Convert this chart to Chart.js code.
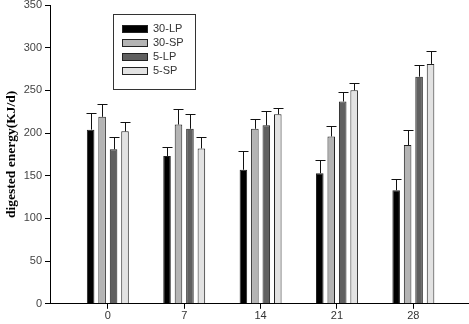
<!DOCTYPE html>
<html>
<head>
<meta charset="utf-8">
<script src="https://cdn.jsdelivr.net/npm/chart.js@4"></script>
<style>
  html, body { margin: 0; padding: 0; background: #fff; }
  #wrap { width: 469px; height: 324px; position: relative; }
</style>
</head>
<body>
<div id="wrap"><canvas id="chart"></canvas></div>
<script>
// days on the x axis
const days = [0, 7, 14, 21, 28];

// group labels
const groups = ['30-LP', '30-SP', '5-LP', '5-SP'];

// mean values (KJ/d)
const lp30 = [204, 173, 157, 153, 133];
const sp30 = [219, 210, 205, 196, 186];
const lp5 = [181, 205, 209, 237, 266];
const sp5 = [202, 182, 222, 250, 281];

// upper error (SD)
const lp30Err = [20, 11, 22, 16, 13];
const sp30Err = [15, 18, 11, 12, 17];
const lp5Err = [14, 17, 17, 11, 14];
const sp5Err = [11, 13, 7, 9, 15];

const yTicks = [0, 50, 100, 150, 200, 250, 300, 350];

const fills = ['#000000', '#b4b4b4', '#606060', '#e2e2e2'];
const series = [lp30, sp30, lp5, sp5];
const errors = [lp30Err, sp30Err, lp5Err, sp5Err];

const datasets = groups.map((g, i) => ({
    label: g,
    data: days.map((d, j) => ({ x: d, y: series[i][j] })),
    errors: errors[i],
    backgroundColor: fills[i],
    borderColor: '#222',
    borderWidth: 1,
    categoryPercentage: 0.6,
    barPercentage: 0.66
}));

// upward error bars with a cap
const errorBars = {
    id: 'errorBars',
    afterDatasetsDraw(chart) {
        const ctx = chart.ctx;
        const y = chart.scales.y;
        ctx.save();
        ctx.strokeStyle = '#111';
        ctx.lineWidth = 1;
        chart.data.datasets.forEach((ds, i) => {
            const meta = chart.getDatasetMeta(i);
            meta.data.forEach((bar, j) => {
                const top = y.getPixelForValue(ds.data[j].y + ds.errors[j]);
                const x = Math.round(bar.x) + 0.5;
                ctx.beginPath();
                ctx.moveTo(x, bar.y);
                ctx.lineTo(x, Math.round(top) + 0.5);
                ctx.moveTo(x - 5, Math.round(top) + 0.5);
                ctx.lineTo(x + 5, Math.round(top) + 0.5);
                ctx.stroke();
            });
        });
        ctx.restore();
    }
};

// boxed legend inside the plot
const boxLegend = {
    id: 'boxLegend',
    afterDraw(chart) {
        const ctx = chart.ctx;
        ctx.save();
        ctx.strokeStyle = '#333';
        ctx.lineWidth = 1;
        ctx.strokeRect(113.5, 14.5, 82, 75);
        ctx.font = '11px "Liberation Sans", Arial, sans-serif';
        ctx.textBaseline = 'middle';
        chart.data.datasets.forEach((ds, i) => {
            const rowY = 29 + i * 14;
            ctx.fillStyle = ds.backgroundColor;
            ctx.fillRect(122, rowY - 4, 26, 8);
            ctx.strokeStyle = '#222';
            ctx.strokeRect(122.5, rowY - 3.5, 25, 7);
            ctx.fillStyle = '#333';
            ctx.fillText(ds.label, 153, rowY);
        });
        ctx.restore();
    }
};

new Chart(document.getElementById('chart'), {
    type: 'bar',
    data: { datasets },
    options: {
        responsive: true,
        maintainAspectRatio: false,
        animation: false,
        layout: { padding: { top: 5, right: 0, left: 3, bottom: 0 } },
        plugins: {
            legend: { display: false },
            tooltip: { enabled: false }
        },
        scales: {
            x: {
                type: 'linear',
                offset: false,
                min: -5.3,
                max: 33.1,
                afterBuildTicks(scale) {
                    scale.ticks = days.map(v => ({ value: v }));
                },
                grid: { offset: false, drawOnChartArea: false, tickLength: 5, color: '#000' },
                border: { color: '#000' },
                ticks: {
                    color: '#333',
                    padding: 1,
                    font: { family: '"Liberation Sans", Arial, sans-serif', size: 11 }
                }
            },
            y: {
                min: 0,
                max: 350,
                afterBuildTicks(scale) {
                    scale.ticks = yTicks.map(v => ({ value: v }));
                },
                afterFit(scale) {
                    scale.width = 47;
                    scale.paddingTop = 0;
                },
                grid: { drawOnChartArea: false, tickLength: 5, color: '#000' },
                border: { color: '#000' },
                title: {
                    display: true,
                    text: 'digested energy(KJ/d)',
                    color: '#000',
                    padding: { top: 0, bottom: 0 },
                    font: { family: '"Liberation Serif", "Times New Roman", serif', size: 13.5, weight: 'bold' }
                },
                ticks: {
                    color: '#444',
                    padding: 3,
                    font: { family: '"Liberation Sans", Arial, sans-serif', size: 11 }
                }
            }
        }
    },
    plugins: [errorBars, boxLegend]
});
</script>
</body>
</html>
